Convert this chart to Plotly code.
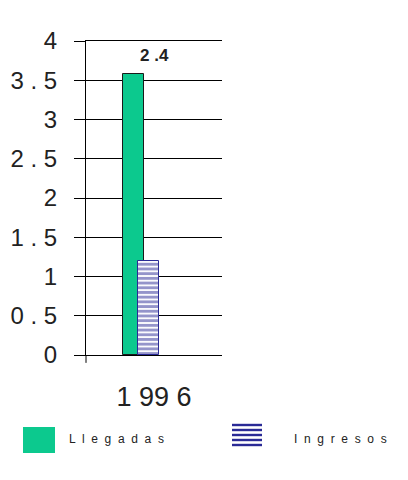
import plotly.graph_objects as go

categories = ["1996"]
llegadas = [3.58]
ingresos = [1.2]
label_text = ["2 .4"]
label_y = [3.82]
ytick_vals = [0, 0.5, 1, 1.5, 2, 2.5, 3, 3.5, 4]
ytick_text = ["0", "0 . 5", "1", "1 . 5", "2", "2 . 5", "3", "3 . 5", "4"]
xtick_text = ["1 99 6"]
series_names = ["Llegadas", "Ingresos"]

GREEN = "#0cc98e"
BLUE = "#2a2a96"
FONT = "Liberation Sans, Arial, sans-serif"


def spaced(s):
    return " \u00a0".join(list(s))


fig = go.Figure()
fig.add_trace(go.Bar(
    x=categories, y=llegadas, name=series_names[0],
    width=0.155, offset=-0.228,
    marker=dict(color=GREEN, line=dict(color="#1a1a1a", width=1)),
    showlegend=False,
))
fig.add_trace(go.Bar(
    x=categories, y=ingresos, name=series_names[1],
    width=0.155, offset=-0.118,
    marker=dict(color="white", line=dict(color=BLUE, width=1),
                pattern=dict(shape="-", fgcolor=BLUE, bgcolor="white",
                             size=4.7, solidity=0.62)),
    showlegend=False,
))

for i, (yv, t) in enumerate(zip(label_y, label_text)):
    fig.add_annotation(x=i, y=yv, text="<b>%s</b>" % t.replace(" ", "\u00a0"), showarrow=False,
                       font=dict(family=FONT, size=17, color="#222"))

# small tick below the axis
fig.add_shape(type="line", xref="x domain", yref="y domain",
              x0=0, x1=0, y0=-0.025, y1=0, line=dict(color="black", width=1))

# manual legend (pixel positions mapped to plot-area paper coords)
def px(x):
    return (x - 86) / 136


def py(y):
    return (355 - y) / 314


fig.add_shape(type="rect", xref="paper", yref="paper",
              x0=px(23), x1=px(55), y0=py(453), y1=py(427),
              fillcolor=GREEN, line=dict(width=0))
for i in range(5):
    yc = 425 + i * 5
    fig.add_shape(type="rect", xref="paper", yref="paper",
                  x0=px(232), x1=px(262), y0=py(yc + 1.2), y1=py(yc - 1.2),
                  fillcolor=BLUE, line=dict(width=0))
fig.add_annotation(xref="paper", yref="paper", x=px(67), y=py(439),
                   xanchor="left", yanchor="middle", text=spaced(series_names[0]),
                   showarrow=False, font=dict(family=FONT, size=12, color="#222"))
fig.add_annotation(xref="paper", yref="paper", x=px(292), y=py(439),
                   xanchor="left", yanchor="middle", text=spaced(series_names[1]),
                   showarrow=False, font=dict(family=FONT, size=12, color="#222"))

fig.update_layout(
    width=400, height=472,
    margin=dict(l=78, r=186, t=33, b=125),
    paper_bgcolor="white", plot_bgcolor="white",
    barmode="overlay", bargap=0,
    font=dict(family=FONT, color="#222"),
    xaxis=dict(type="category", range=[-0.5, 0.5], tickvals=categories, ticktext=xtick_text,
               showgrid=False, showline=True, mirror=True, linecolor="black", linewidth=1,
               ticks="", zeroline=False, automargin=False,
               tickfont=dict(size=27, color="#222"), ticklabelstandoff=18),
    yaxis=dict(range=[0, 4], tickvals=ytick_vals, ticktext=ytick_text,
               showgrid=True, gridcolor="black", gridwidth=1,
               showline=True, linecolor="black", linewidth=1,
               ticks="outside", ticklen=11, tickcolor="black",
               zeroline=False, automargin=False, tickfont=dict(size=24, color="#222"),
               ticklabelstandoff=12),
)

fig.write_html("out.html")
